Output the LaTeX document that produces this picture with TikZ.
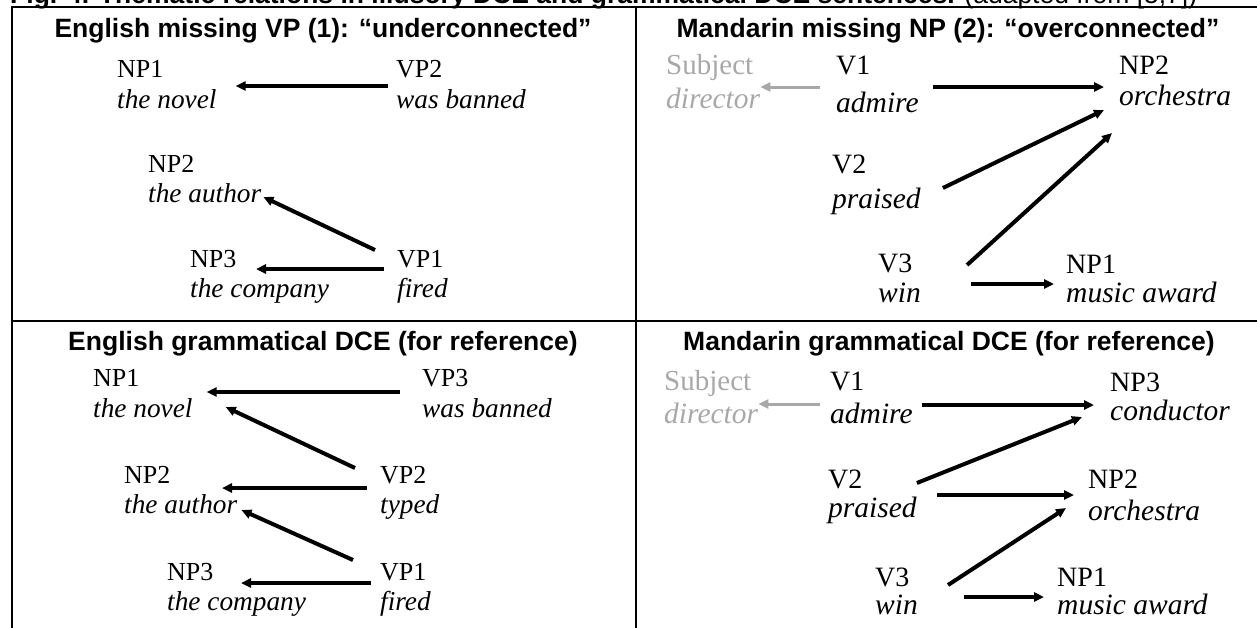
\documentclass[tikz,border=0pt]{standalone}
\usepackage{fontspec}
\setmainfont{Liberation Serif}
\newfontfamily\headfont{Liberation Sans}
\usetikzlibrary{arrows.meta}
\definecolor{subjgray}{RGB}{168,168,168}
\newcommand{\twoline}[4]{\vtop{\hbox{#1}\vskip#3\hbox{\fontsize{#4}{30}\selectfont\itshape #2}}}
\tikzset{
  pairL/.style={anchor=base west, inner sep=0pt, font=\fontsize{26}{30}\selectfont},
  pairR/.style={anchor=base west, inner sep=0pt, font=\fontsize{28}{30}\selectfont},
  ghost/.style={anchor=base west, inner sep=0pt, text=subjgray, font=\fontsize{29}{30}\selectfont},
  rel/.style={line width=4pt, -{Triangle[length=10pt,width=9pt]}},
  ghostrel/.style={rel, draw=subjgray, line width=3pt},
  head/.style={anchor=base, inner sep=0pt, font=\headfont\bfseries\fontsize{26.5}{30}\selectfont},
  frame/.style={line width=2pt}
}
\begin{document}
\begin{tikzpicture}[x=1pt,y=-1pt]
\clip (0,0) rectangle (1257,627);

%Caption
\node[anchor=base west, inner sep=0pt, font=\headfont\fontsize{26.5}{30}\selectfont] (cap) at (10,3.5)
  {\textbf{Fig. 4. Thematic relations in illusory DCE and grammatical DCE sentences.} (adapted from [5,7])};

%Table
\draw[frame] (11.5,640) |- (1270,7);
\draw[frame, line width=2.5pt] (11.5,321) -- (1270,321);
\draw[frame] (636,7) -- (636,640);

%Headings
\node[head] (h1) at (323,37) {English missing VP (1): “underconnected”};
\node[head] (h2) at (948,37) {Mandarin missing NP (2): “overconnected”};
\node[head] (h3) at (323,350) {English grammatical DCE (for reference)};
\node[head] (h4) at (949,350) {Mandarin grammatical DCE (for reference)};

%Words English
\foreach \nm/\x/\y/\lab/\word/\extra in
{
np1/117/77/NP1/the novel/1pt,
vp2/396/77/VP2/was banned/1pt,
np2/148/172/NP2/the author/0pt,
np3/190/267/NP3/the company/0pt,
vp1/397/267/VP1/fired/0pt,
np1c/93/386/NP1/the novel/1pt,
vp3/422/386/VP3/was banned/1pt,
np2c/124/483/NP2/the author/0pt,
vp2c/380/483/VP2/typed/0pt,
np3c/167/580/NP3/the company/0pt,
vp1c/380/580/VP1/fired/0pt
}
{
	\node[pairL] (\nm) at (\x,\y) {\twoline{\lab}{\word}{\extra}{27.3}};
}

%Words Mandarin
\foreach \nm/\x/\y/\lab/\word/\extra in
{
v1/836/74/V1/admire/8pt,
np2b/1119/74/NP2/orchestra/1pt,
v2/832/173/V2/praised/5pt,
v3/878/272/V3/win/0pt,
np1b/1066/273/NP1/music award/-1pt,
v1d/830/390/V1/admire/3pt,
np3d/1110/391/NP3/conductor/-1pt,
v2d/828/488/V2/praised/-1pt,
np2d/1088/488/NP2/orchestra/2pt,
v3d/875/586/V3/win/-2pt,
np1d/1057/586/NP1/music award/-2pt
}
{
	\node[pairR] (\nm) at (\x,\y) {\twoline{\lab}{\word}{\extra}{29.5}};
}

%Subjects
\node[ghost] (subj) at (666,74) {\twoline{Subject}{director}{4pt}{29.5}};
\node[ghost] (subj2) at (664,390) {\twoline{Subject}{director}{3pt}{29.5}};

%Top left
\draw[rel] ([shift={(-8,9)}]vp2.base west) -- ([shift={(19,9)}]np1.base east);
\draw[rel] ([shift={(-22,-17)}]vp1.base west) -- ([shift={(2,25)}]np2.base east);
\draw[rel] ([shift={(-13,2)}]vp1.base west) -- ([shift={(66,2)}]np3.base west);

%Top right
\draw[ghostrel] ([shift={(-16,13)}]v1.base west) -- ([shift={(0,13)}]subj.base east);
\draw[rel] ([shift={(14,13)}]v1.base east) -- ([shift={(-15,13)}]np2b.base west);
\draw[rel] ([shift={(22,15)}]v2.base east) -- ([shift={(-15,36)}]np2b.base west);
\draw[rel] ([shift={(46,-7)}]v3.base east) -- ([shift={(-7,59)}]np2b.base west);
\draw[rel] ([shift={(50,12)}]v3.base east) -- ([shift={(-12,11)}]np1b.base west);

%Bottom left
\draw[rel] ([shift={(-22,6)}]vp3.base west) -- ([shift={(14,6)}]np1c.base east);
\draw[rel] ([shift={(-25,-15)}]vp2c.base west) -- ([shift={(33,21)}]np1c.base east);
\draw[rel] ([shift={(-13,5)}]vp2c.base west) -- ([shift={(98,5)}]np2c.base west);
\draw[rel] ([shift={(-27,-20)}]vp1c.base west) -- ([shift={(4,27)}]np2c.base east);
\draw[rel] ([shift={(-9,3)}]vp1c.base west) -- ([shift={(74,3)}]np3c.base west);

%Bottom right
\draw[ghostrel] ([shift={(-10,14)}]v1d.base west) -- ([shift={(0,14)}]subj2.base east);
\draw[rel] ([shift={(9,15)}]v1d.base east) -- ([shift={(-16,14)}]np3d.base west);
\draw[rel] ([shift={(0,-5)}]v2d.base east) -- ([shift={(-28,26)}]np3d.base west);
\draw[rel] ([shift={(20,7)}]v2d.base east) -- ([shift={(-14,7)}]np2d.base west);
\draw[rel] ([shift={(30,-1)}]v3d.base east) -- ([shift={(-22,20)}]np2d.base west);
\draw[rel] ([shift={(46,11)}]v3d.base east) -- ([shift={(-13,11)}]np1d.base west);

\end{tikzpicture}
\end{document}
